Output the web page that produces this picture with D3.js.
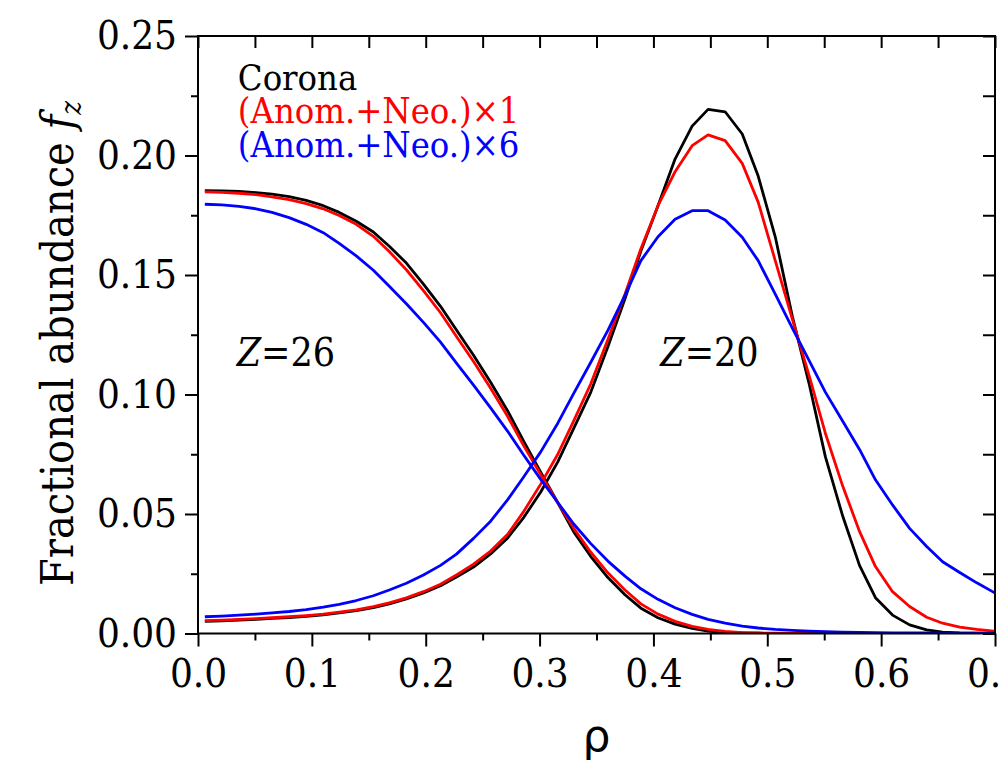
<!DOCTYPE html>
<html>
<head>
<meta charset="utf-8">
<script src="https://cdn.jsdelivr.net/npm/d3@7"></script>
<style>
  body { margin: 0; background: #fff; }
  svg { display: block; }
  .serif { font-family: "DejaVu Serif Condensed", "DejaVu Serif", serif; font-stretch: condensed; }
</style>
</head>
<body>
<div id="chart"></div>
<script>
const width = 1000, height = 773;
const margin = { left: 198, right: 5, top: 36, bottom: 139.5 };

// normalized radius grid
const rho = [0.006,0.021,0.036,0.051,0.065,0.080,0.095,0.110,0.124,0.139,0.154,0.168,0.183,0.198,0.213,0.227,0.242,0.257,0.272,0.286,0.301,0.316,0.330,0.345,0.360,0.375,0.389,0.404,0.419,0.434,0.448,0.463,0.478,0.492,0.507,0.522,0.537,0.551,0.566,0.581,0.595,0.610,0.625,0.640,0.654,0.669,0.684,0.699,0.713];

// Z=26
const coronaZ26 = [0.1853,0.1852,0.1850,0.1845,0.1838,0.1828,0.1812,0.1790,0.1762,0.1725,0.1680,0.1620,0.1550,0.1462,0.1369,0.1270,0.1164,0.1051,0.0931,0.0805,0.0675,0.0547,0.0425,0.0322,0.0234,0.0162,0.0106,0.0066,0.0039,0.0021,0.0010,0.0004,0.0002,0.0001,0,0,0,0,0,0,0,0,0,0,0,0,0,0,0];
const anom1Z26 = [0.1848,0.1846,0.1842,0.1836,0.1827,0.1815,0.1799,0.1777,0.1749,0.1712,0.1662,0.1598,0.1522,0.1435,0.1342,0.1243,0.1138,0.1026,0.0908,0.0786,0.0665,0.0547,0.0440,0.0340,0.0254,0.0182,0.0124,0.0081,0.0051,0.0030,0.0017,0.0009,0.0004,0.0002,0.0001,0,0,0,0,0,0,0,0,0,0,0,0,0,0];
const anom6Z26 = [0.1796,0.1793,0.1787,0.1777,0.1762,0.1740,0.1712,0.1677,0.1632,0.1580,0.1520,0.1453,0.1380,0.1302,0.1219,0.1131,0.1039,0.0944,0.0846,0.0747,0.0645,0.0548,0.0458,0.0376,0.0303,0.0240,0.0187,0.0143,0.0108,0.0080,0.0059,0.0043,0.0031,0.0023,0.0017,0.0013,0.0010,0.0008,0.0006,0.0005,0.0004,0.0003,0.0002,0.0002,0.0001,0.0001,0.0001,0.0001,0.0001];

// Z=20
const coronaZ20 = [0.0051,0.0053,0.0056,0.0059,0.0063,0.0067,0.0072,0.0078,0.0086,0.0096,0.0108,0.0124,0.0145,0.0170,0.0200,0.0236,0.0278,0.0333,0.0400,0.0485,0.0592,0.0718,0.0858,0.1010,0.1200,0.1400,0.1600,0.1790,0.1985,0.2123,0.2193,0.2183,0.2090,0.1914,0.1660,0.1327,0.1040,0.0740,0.0495,0.0285,0.0150,0.0077,0.0036,0.0015,0.0006,0.0002,0.0001,0,0];
const anom1Z20 = [0.0054,0.0056,0.0059,0.0062,0.0066,0.0070,0.0075,0.0081,0.0089,0.0099,0.0112,0.0128,0.0149,0.0175,0.0206,0.0245,0.0290,0.0345,0.0415,0.0510,0.0625,0.0750,0.0890,0.1045,0.1230,0.1420,0.1610,0.1790,0.1932,0.2041,0.2086,0.2062,0.1967,0.1805,0.1560,0.1315,0.1075,0.0838,0.0620,0.0427,0.0280,0.0175,0.0113,0.0068,0.0043,0.0027,0.0017,0.0010,0.0007];
const anom6Z20 = [0.0070,0.0073,0.0077,0.0081,0.0086,0.0092,0.0100,0.0110,0.0122,0.0138,0.0158,0.0182,0.0210,0.0245,0.0285,0.0332,0.0398,0.0470,0.0560,0.0655,0.0760,0.0880,0.1005,0.1135,0.1268,0.1415,0.1560,0.1660,0.1733,0.1769,0.1769,0.1730,0.1658,0.1560,0.1420,0.1278,0.1140,0.1010,0.0890,0.0770,0.0643,0.0538,0.0440,0.0364,0.0300,0.0255,0.0212,0.0172,0.0140];

const seriesNames = ["Corona", "(Anom.+Neo.)×1", "(Anom.+Neo.)×6"];
const seriesColors = ["#000000", "#ff0000", "#0000ff"];

const xTicks = [0, 0.1, 0.2, 0.3, 0.4, 0.5, 0.6, 0.7];
const xMinor = [0.05, 0.15, 0.25, 0.35, 0.45, 0.55, 0.65];
const yTicks = [0, 0.05, 0.10, 0.15, 0.20, 0.25];
const yMinor = [0.025, 0.075, 0.125, 0.175, 0.225];

const innerwidth = width - margin.left - margin.right;
const innerheight = height - margin.top - margin.bottom;

const svg = d3.select("#chart")
    .append("svg")
    .attr("width", width)
    .attr("height", height);

const xScale = d3.scaleLinear().domain([0, 0.7]).range([0, innerwidth]);
const yScale = d3.scaleLinear().domain([0, 0.25]).range([innerheight, 0]);

const innerChart = svg.append("g")
    .attr("transform", `translate(${margin.left},${margin.top})`);

innerChart.append("clipPath")
    .attr("id", "plot-clip")
    .append("rect")
    .attr("width", innerwidth)
    .attr("height", innerheight);

// curves: black first, blue on top
const curves = [
    { color: seriesColors[0], values: coronaZ26 },
    { color: seriesColors[0], values: coronaZ20 },
    { color: seriesColors[1], values: anom1Z26 },
    { color: seriesColors[1], values: anom1Z20 },
    { color: seriesColors[2], values: anom6Z26 },
    { color: seriesColors[2], values: anom6Z20 }
];

const line = d3.line()
    .x((d, i) => xScale(rho[i]))
    .y(d => yScale(d));

innerChart.append("g")
    .attr("clip-path", "url(#plot-clip)")
    .selectAll("path")
    .data(curves)
    .join("path")
    .attr("d", d => line(d.values))
    .attr("fill", "none")
    .attr("stroke", d => d.color)
    .attr("stroke-width", 2.8)
    .attr("stroke-linejoin", "round");

// axes
const styleAxis = (g) => {
    g.select(".domain").remove();
    g.selectAll(".tick line").attr("stroke", "#000").attr("stroke-width", 2);
    g.selectAll("text")
        .attr("class", "serif")
        .attr("font-size", 40)
        .attr("fill", "#000");
};

innerChart.append("g")
    .attr("transform", `translate(0,${innerheight})`)
    .call(d3.axisBottom(xScale).tickValues(xTicks).tickSize(13).tickPadding(12).tickFormat(d3.format(".1f")))
    .call(styleAxis);

innerChart.append("g")
    .attr("transform", `translate(0,${innerheight})`)
    .call(d3.axisBottom(xScale).tickValues(xMinor).tickSize(7).tickFormat(""))
    .call(styleAxis);

innerChart.append("g")
    .call(d3.axisTop(xScale).tickValues(xTicks.concat(xMinor)).tickSize(-12).tickFormat(""))
    .call(styleAxis);

innerChart.append("g")
    .call(d3.axisLeft(yScale).tickValues(yTicks).tickSize(13).tickPadding(8).tickFormat(d3.format(".2f")))
    .call(styleAxis);

innerChart.append("g")
    .call(d3.axisLeft(yScale).tickValues(yMinor).tickSize(7).tickFormat(""))
    .call(styleAxis);

innerChart.append("g")
    .attr("transform", `translate(${innerwidth},0)`)
    .call(d3.axisRight(yScale).tickValues(yTicks.concat(yMinor)).tickSize(-12).tickFormat(""))
    .call(styleAxis);

innerChart.append("rect")
    .attr("width", innerwidth)
    .attr("height", innerheight)
    .attr("fill", "none")
    .attr("stroke", "#000")
    .attr("stroke-width", 2);

// legend
innerChart.append("g")
    .selectAll("text")
    .data(seriesNames)
    .join("text")
    .attr("class", "serif")
    .attr("x", xScale(0.035))
    .attr("y", (d, i) => yScale(0.2275) + i * 33.5)
    .attr("font-size", 36)
    .attr("fill", (d, i) => seriesColors[i])
    .text(d => d);

// Z annotations
const zLabels = [
    { rho: 0.034, z: "26" },
    { rho: 0.406, z: "20" }
];
const zText = innerChart.append("g")
    .selectAll("text")
    .data(zLabels)
    .join("text")
    .attr("class", "serif")
    .attr("x", d => xScale(d.rho))
    .attr("y", yScale(0.112))
    .attr("font-size", 39)
    .attr("fill", "#000");
zText.append("tspan").attr("font-style", "italic").text("Z");
zText.append("tspan").text(d => "=" + d.z);

// axis titles
svg.append("text")
    .attr("x", margin.left + innerwidth / 2)
    .attr("y", 751)
    .attr("text-anchor", "middle")
    .attr("font-family", "'DejaVu Sans', sans-serif")
    .attr("font-size", 44)
    .text("ρ");

const yTitle = svg.append("text")
    .attr("class", "serif")
    .attr("transform", "translate(73,586) rotate(-90)")
    .attr("font-size", 44.5);
yTitle.append("tspan").text("Fractional abundance ");
yTitle.append("tspan").attr("font-style", "italic").text("f");
yTitle.append("tspan").attr("font-style", "italic").attr("font-size", 29).attr("dy", 8).text("z");
</script>
</body>
</html>
